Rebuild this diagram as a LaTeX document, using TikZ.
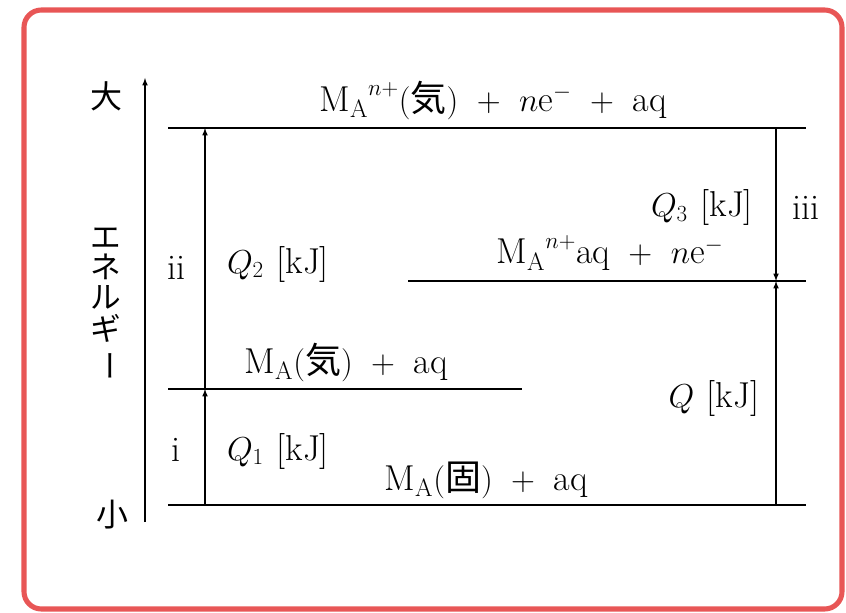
\documentclass[tikz,border=0pt]{standalone}
\usepackage{fontspec}
\newfontfamily\jp{Noto Sans CJK JP}
\definecolor{framered}{RGB}{232,86,86}
\medmuskip=10mu plus 2mu minus 2mu\relax

\begin{document}
\begin{tikzpicture}[x=0.75pt, y=-0.75pt, >=latex,
    lvl/.style={line width=1.1pt},
    jump/.style={->, line width=0.9pt},
    lbl/.style={font=\fontsize{27}{32}\selectfont, inner sep=1pt},
    kana/.style={font=\jp\fontsize{23}{27}\selectfont, inner sep=0pt}]
        \useasboundingbox (0,0) rectangle (846,613);
        % Frame round the picture
        \draw[framered, line width=3.8pt, rounded corners=13pt] (24,10) rectangle (842,609);

        % Energy axis on the left
        \coordinate (ax0) at (145,522);
        \coordinate (ax1) at (145,78);
        \draw[jump] (ax0) -- (ax1);
        \node[kana, font=\jp\fontsize{24}{28}\selectfont] (big) at (106,96) {大};
        \node[kana, font=\jp\fontsize{24}{28}\selectfont] (small) at (112,515) {小};
        \foreach \ch/\yy [count=\k] in {エ/238, ネ/267, ル/297, ギ/328}
            \node[kana] (en\k) at (106,\yy) {\ch};
        \node[kana, rotate=-90] (en5) at (105,366) {ー};

        % Levels
        \coordinate (topL) at (168,128);
        \coordinate (topR) at (806,128);
        \coordinate (ionL) at (408,281);
        \coordinate (ionR) at (806,281);
        \coordinate (gasL) at (168,389);
        \coordinate (gasR) at (522,389);
        \coordinate (solL) at (168,505);
        \coordinate (solR) at (806,505);
        \draw[lvl] (topL) -- (topR);
        \draw[lvl] (ionL) -- (ionR);
        \draw[lvl] (gasL) -- (gasR);
        \draw[lvl] (solL) -- (solR);

        \node[lbl] (top) at (493,100) {$\mathrm{M_A}^{n+}(\mbox{\jp 気}) + n\mathrm{e}^- + \mathrm{aq}$};
        \node[lbl] (ion) at (610,253) {$\mathrm{M_A}^{n+}\mathrm{aq} + n\mathrm{e}^-$};
        \node[lbl] (gas) at (346,362) {$\mathrm{M_A}(\mbox{\jp 気}) + \mathrm{aq}$};
        \node[lbl] (sol) at (486,480) {$\mathrm{M_A}(\mbox{\jp 固}) + \mathrm{aq}$};

        % Steps i, ii, iii and Q
        \coordinate (i0) at (205,505);
        \coordinate (i1) at (205,389);
        \coordinate (ii1) at (205,128);
        \coordinate (iii0) at (776,128);
        \coordinate (iii1) at (776,281);
        \coordinate (q0) at (776,505);
        \draw[jump] (i0) -- (i1);
        \draw[jump] (i1) -- (ii1);
        \draw[jump] (iii0) -- (iii1);
        \draw[jump] (q0) -- (iii1);

        \node[lbl] (stepi) at (176,450) {i};
        \node[lbl] (q1) at (278,451) {$Q_1$\hspace{0.35em}[kJ]};
        \node[lbl] (stepii) at (176,268) {ii};
        \node[lbl] (q2) at (278,264) {$Q_2$\hspace{0.35em}[kJ]};
        \node[lbl] (q3) at (702,208) {$Q_3$\hspace{0.35em}[kJ]};
        \node[lbl] (stepiii) at (806,208) {iii};
        \node[lbl] (q) at (714,398) {$Q$\hspace{0.35em}[kJ]};
\end{tikzpicture}
\end{document}
